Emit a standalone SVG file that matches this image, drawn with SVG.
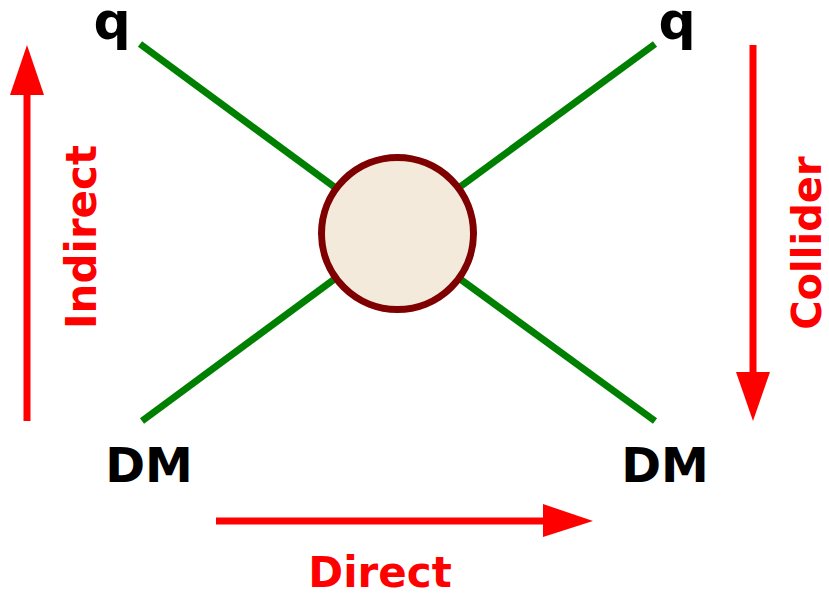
<svg xmlns="http://www.w3.org/2000/svg" width="829" height="599" viewBox="0 0 829 599">
<defs>
<style>
.leg{stroke:#008000;stroke-width:7;fill:none}
.lbl{font-family:"Comic Sans MS","DejaVu Sans",sans-serif;font-weight:bold;font-size:48px;fill:#000;text-anchor:middle}
.q{font-size:52px}
.red{font-family:"Comic Sans MS","DejaVu Sans",sans-serif;font-weight:bold;font-size:42px;fill:#ff0000;text-anchor:middle}
.arr{stroke:#ff0000;stroke-width:7;fill:none}
.head{fill:#ff0000}
</style>
</defs>
<rect width="829" height="599" fill="#fff"/>
<g id="connectors">
<line class="leg" x1="140" y1="44" x2="397" y2="233"/>
<line class="leg" x1="655" y1="44" x2="397" y2="233"/>
<line class="leg" x1="142" y1="421" x2="397" y2="233"/>
<line class="leg" x1="655" y1="421" x2="397" y2="233"/>
</g>
<g id="vertex">
<circle cx="397.5" cy="233.5" r="76" fill="#f4eadc" stroke="#7f0000" stroke-width="7"/>
</g>
<g id="q-top-left"><text class="lbl q" x="112" y="39">q</text></g>
<g id="q-top-right"><text class="lbl q" x="677" y="39">q</text></g>
<g id="dm-left"><text class="lbl" x="149" y="482">DM</text></g>
<g id="dm-right"><text class="lbl" x="665" y="482">DM</text></g>
<g id="indirect">
<line class="arr" x1="27" y1="421" x2="27" y2="92"/>
<polygon class="head" points="10,95 44,95 27,45"/>
<text class="red" transform="translate(96,237) rotate(-90)">Indirect</text>
</g>
<g id="collider">
<line class="arr" x1="753" y1="45" x2="753" y2="375"/>
<polygon class="head" points="736,372 770,372 753,421"/>
<text class="red" style="font-size:40px" transform="translate(821,243) rotate(-90)">Collider</text>
</g>
<g id="direct">
<line class="arr" x1="216" y1="521" x2="546" y2="521"/>
<polygon class="head" points="543,504 543,537 593,521"/>
<text class="red" x="380" y="587">Direct</text>
</g>
</svg>
